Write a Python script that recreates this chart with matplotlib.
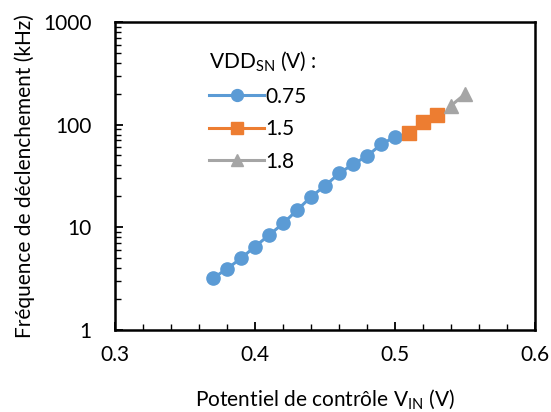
import numpy as np
import matplotlib.pyplot as plt
from matplotlib.ticker import FixedLocator, LogLocator, NullFormatter, FuncFormatter

plt.rcParams['font.family'] = ['Lato', 'DejaVu Sans']

# data
v_075 = [0.37, 0.38, 0.39, 0.40, 0.41, 0.42, 0.43, 0.44, 0.45, 0.46, 0.47, 0.48, 0.49, 0.50]
f_075 = [3.2, 3.95, 5.0, 6.5, 8.4, 10.9, 14.7, 19.8, 25.4, 33.4, 41.2, 49.3, 64.1, 76.1]
v_15 = [0.51, 0.52, 0.53]
f_15 = [82, 106, 124]
v_18 = [0.54, 0.55]
f_18 = [153, 198]

fig = plt.figure(figsize=(5.51, 4.12), dpi=100)
ax = fig.add_axes([0.209, 0.199, 0.762, 0.748])

ax.plot(v_075, f_075, color='#5B9BD5', marker='o', markersize=9.5, lw=2.2, label='0.75')
ax.plot(v_15, f_15, color='#ED7D31', marker='s', markersize=9.5, lw=2.2, label='1.5')
ax.plot(v_18, f_18, color='#A5A5A5', marker='^', markersize=10, lw=2.2, label='1.8')

ax.set_yscale('log')
ax.set_xlim(0.3, 0.6)
ax.set_ylim(1, 1000)
ax.set_xticks([0.3, 0.4, 0.5, 0.6])
ax.set_xticklabels(['0.3', '0.4', '0.5', '0.6'])
ax.xaxis.set_minor_locator(FixedLocator(np.arange(0.32, 0.6, 0.02)))
ax.yaxis.set_major_formatter(FuncFormatter(lambda y, p: '%d' % y))
ax.yaxis.set_minor_locator(LogLocator(base=10, subs=np.arange(2, 10)))
ax.yaxis.set_minor_formatter(NullFormatter())

ax.tick_params(which='both', direction='in', labelsize=15, color='black')
ax.tick_params(axis='x', pad=11)
ax.tick_params(axis='y', pad=17)
ax.tick_params(which='major', length=6, width=1.3)
ax.tick_params(which='minor', length=4, width=1.0)
for s in ax.spines.values():
    s.set_linewidth(1.8)

ax.set_xlabel('Potentiel de contrôle V$_{\\mathregular{IN}}$ (V)', fontsize=15, labelpad=16)
ax.set_ylabel('Fréquence de déclenchement (kHz)', fontsize=15, labelpad=6)

leg = ax.legend(title='VDD$_{\\mathregular{SN}}$ (V) :', loc='upper left', bbox_to_anchor=(0.18, 0.97),
                frameon=False, fontsize=15, title_fontsize=15, handlelength=2.6,
                handletextpad=0.1, labelspacing=0.6, markerscale=0.9)
leg._legend_box.align = 'left'

fig.savefig('out.png', dpi=100)
